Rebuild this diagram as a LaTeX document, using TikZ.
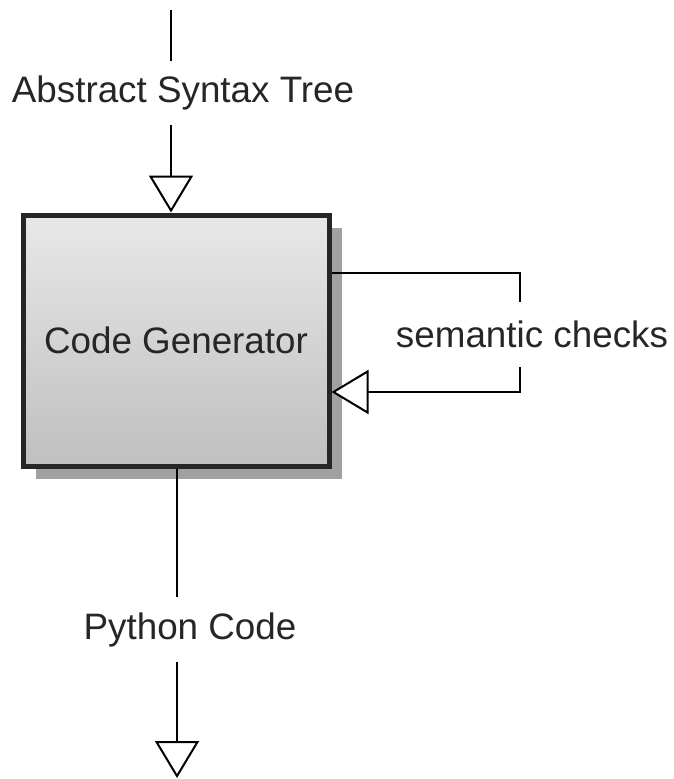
\documentclass[tikz,border=0pt]{standalone}
\usepackage{fontspec}
\setmainfont{Liberation Sans}
\usetikzlibrary{arrows.meta,shadows}

\tikzset{
  flow/.style={line width=2pt, draw=black},
  openhead/.style={flow, -{Triangle[open, length=37pt, width=44pt, fill=white]}},
  lbl/.style={inner sep=0pt, minimum height=64pt, text=black!85,
    font=\fontsize{36.8}{44}\selectfont},
  stage/.style={draw=black!85, line width=5pt, minimum width=306pt, minimum height=251pt,
    inner sep=0pt, top color=black!9, bottom color=black!25, text=black!85,
    font=\fontsize{36.8}{44}\selectfont,
    drop shadow={shadow xshift=13pt, shadow yshift=-13pt, fill=black!37, opacity=1}}
}

\begin{document}
\begin{tikzpicture}[x=1pt, y=-1pt]
  \useasboundingbox (0,0) rectangle (674,779);

  % the transformation stage
  \node[stage] (gen) at (176,340.5) {Code Generator};

  % input: the syntax tree
  \coordinate (src) at (171,10);
  \node[lbl] (ast) at (183,93) {Abstract Syntax Tree};
  \draw[flow] (src) -- (src |- ast.north);
  \draw[openhead] (src |- ast.south) -- (src |- gen.north);

  % feedback loop with the checks
  \node[lbl, minimum height=65pt] (sem) at (532,334.5) {semantic checks};
  \draw[flow] ([yshift=67.5pt]gen.east) -| ([xshift=-12pt]sem.north);
  \draw[openhead] ([xshift=-12pt]sem.south) |- ([yshift=-51.5pt]gen.east);

  % output: generated code
  \node[lbl] (py) at (190,629.5) {Python Code};
  \coordinate (out) at (177,778);
  \draw[flow] ([xshift=1pt]gen.south) -- (out |- py.north);
  \draw[openhead] (out |- py.south) -- (out);
\end{tikzpicture}
\end{document}
